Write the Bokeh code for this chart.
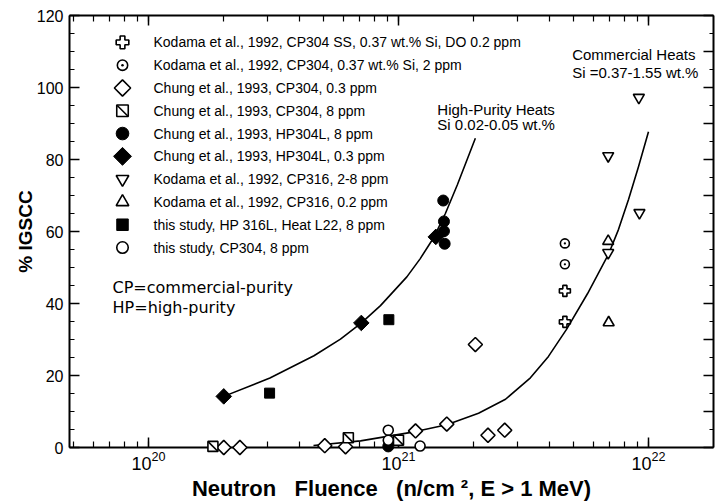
import math

from bokeh.plotting import figure
from bokeh.models import (Range1d, LogAxis, LinearAxis, LogTicker, SingleIntervalTicker,
                          LinearScale, Label, ColumnDataSource)
from bokeh.core.properties import value
from bokeh.embed import file_html
from bokeh.resources import INLINE

FONT = "Liberation Sans"

# ---- measured data: neutron fluence (n/cm^2) vs % IGSCC ----
kodama_ss_x = [4.63e21, 4.63e21]
kodama_ss_y = [43.5, 34.9]

kodama_2ppm_x = [4.63e21, 4.63e21]
kodama_2ppm_y = [56.7, 50.9]

chung_cp304_03_x = [2.0e20, 2.32e20, 5.07e20, 6.14e20, 1.17e21, 1.56e21, 2.03e21, 2.28e21, 2.66e21]
chung_cp304_03_y = [0.0, 0.0, 0.5, 0.2, 4.6, 6.5, 28.6, 3.4, 4.8]

chung_cp304_8_x = [1.81e20, 6.3e20, 1.0e21]
chung_cp304_8_y = [0.3, 2.7, 2.0]

chung_hp304_8_x = [9.1e20, 1.51e21, 1.52e21, 1.52e21, 1.53e21]
chung_hp304_8_y = [0.3, 68.6, 62.8, 60.1, 56.6]

chung_hp304_03_x = [2.0e20, 7.1e20, 1.41e21]
chung_hp304_03_y = [14.2, 34.6, 58.5]

kodama_316_28_x = [6.9e21, 9.15e21, 9.2e21, 6.9e21]
kodama_316_28_y = [81.0, 97.2, 65.2, 54.1]

kodama_316_02_x = [6.9e21, 6.93e21]
kodama_316_02_y = [57.3, 34.7]

study_hp316_x = [3.05e20, 9.15e20]
study_hp316_y = [15.1, 35.5]

study_cp304_x = [9.1e20, 9.1e20, 1.22e21]
study_cp304_y = [4.8, 2.0, 0.4]

# ---- trend curves drawn through the two groups of heats ----
hp_curve_x = [2.0e20, 3.06e20, 4.59e20, 5.86e20, 7.11e20, 8.47e20, 1.08e21, 1.22e21,
              1.38e21, 1.54e21, 1.72e21, 2.03e21]
hp_curve_y = [14.2, 19.3, 25.5, 30.1, 34.6, 39.4, 47.4, 52.4, 58.2, 65.0, 73.0, 85.9]

cp_curve_x = [4.57e20, 7.05e20, 1.17e21, 1.56e21, 2.09e21, 2.68e21, 3.37e21, 3.98e21,
              4.70e21, 5.70e21, 6.92e21, 7.59e21, 8.32e21, 9.12e21, 1.0e22]
cp_curve_y = [0.55, 1.85, 4.42, 6.33, 9.51, 13.4, 19.35, 25.3, 32.8, 42.7, 53.7, 60.6,
              68.9, 78.0, 87.7]

series_labels = [
    "Kodama et al., 1992, CP304 SS, 0.37 wt.% Si, DO 0.2 ppm",
    "Kodama et al., 1992, CP304, 0.37 wt.% Si, 2 ppm",
    "Chung et al., 1993, CP304, 0.3 ppm",
    "Chung et al., 1993, CP304, 8 ppm",
    "Chung et al., 1993, HP304L, 8 ppm",
    "Chung et al., 1993, HP304L, 0.3 ppm",
    "Kodama et al., 1992, CP316, 2-8 ppm",
    "Kodama et al., 1992, CP316, 0.2 ppm",
    "this study, HP 316L, Heat L22, 8 ppm",
    "this study, CP304, 8 ppm",
]

FRAME_W, FRAME_H = 644, 434
p = figure(width=718, height=503, x_axis_type="log",
           x_range=Range1d(4.83e19, 1.82e22), y_range=Range1d(0, 120),
           output_backend="svg", toolbar_location=None,
           min_border_left=69, min_border_right=5, min_border_top=15, min_border_bottom=54)
p.outline_line_color = None
p.grid.visible = False
p.background_fill_color = "white"
p.border_fill_color = "white"

# pixel-like coordinate system (origin top-left of the frame) for the key block
p.extra_x_ranges = {"key": Range1d(0, FRAME_W)}
p.extra_y_ranges = {"key": Range1d(FRAME_H, 0)}
p.extra_x_scales = {"key": LinearScale()}
p.extra_y_scales = {"key": LinearScale()}


def style_axis(ax, tick_size="16px"):
    ax.axis_line_color = "black"
    ax.axis_line_width = 2
    ax.major_tick_line_color = "black"
    ax.major_tick_line_width = 1.5
    ax.minor_tick_line_color = "black"
    ax.minor_tick_line_width = 1.2
    ax.major_tick_in = 10
    ax.major_tick_out = 0
    ax.minor_tick_in = 5
    ax.minor_tick_out = 0
    ax.major_label_text_font = FONT
    ax.major_label_text_font_size = tick_size
    ax.major_label_text_color = "black"


# bottom axis
xa = p.xaxis[0]
xa.ticker = LogTicker(num_minor_ticks=10)
style_axis(xa, "18px")
xa.minor_tick_in = 6
xa.major_label_standoff = 3
xa.axis_label = "Neutron\u00a0\u00a0\u00a0Fluence\u00a0\u00a0\u00a0(n/cm ², E > 1 MeV)"
xa.axis_label_text_font = FONT
xa.axis_label_text_font_style = "bold"
xa.axis_label_text_font_size = "22px"
xa.axis_label_text_color = "black"
xa.axis_label_standoff = 3

# left axis
ya = p.yaxis[0]
ya.ticker = SingleIntervalTicker(interval=20, num_minor_ticks=4)
style_axis(ya, "16px")
ya.major_label_standoff = 6
ya.axis_label = "% IGSCC"
ya.axis_label_text_font = FONT
ya.axis_label_text_font_style = "bold"
ya.axis_label_text_font_size = "19px"
ya.axis_label_text_color = "black"
ya.axis_label_standoff = -2

# top and right frame axes, ticks only (labels kept invisible)
top = LogAxis(ticker=LogTicker(num_minor_ticks=10))
style_axis(top, "2px")
top.major_label_text_alpha = 0
top.major_label_standoff = 0
top.minor_tick_in = 6
p.add_layout(top, "above")

right = LinearAxis(ticker=SingleIntervalTicker(interval=10, num_minor_ticks=2))
style_axis(right, "2px")
right.major_label_text_alpha = 0
right.major_label_standoff = 0
right.minor_tick_in = 4
p.add_layout(right, "right")

# trend curves
p.line(hp_curve_x, hp_curve_y, line_color="black", line_width=1.6, line_join="round")
p.line(cp_curve_x, cp_curve_y, line_color="black", line_width=1.6, line_join="round")

LW = 1.6
# marker style per series: (marker, size, angle, fill)
styles = [
    ("plus", 11, 0.0, "white"),
    ("circle_dot", 9, 0.0, "white"),
    ("square", 10, math.pi / 4, "white"),
    ("square", 10, 0.0, "white"),
    ("circle", 11, 0.0, "black"),
    ("square", 11, math.pi / 4, "black"),
    ("inverted_triangle", 11, 0.0, "white"),
    ("triangle", 11, 0.0, "white"),
    ("square", 10, 0.0, "black"),
    ("circle", 10, 0.0, "white"),
]
series = [
    (kodama_ss_x, kodama_ss_y),
    (kodama_2ppm_x, kodama_2ppm_y),
    (chung_cp304_03_x, chung_cp304_03_y),
    (chung_cp304_8_x, chung_cp304_8_y),
    (chung_hp304_8_x, chung_hp304_8_y),
    (chung_hp304_03_x, chung_hp304_03_y),
    (kodama_316_28_x, kodama_316_28_y),
    (kodama_316_02_x, kodama_316_02_y),
    (study_hp316_x, study_hp316_y),
    (study_cp304_x, study_cp304_y),
]
for (sx, sy), (mk, sz, ang, fill) in zip(series, styles):
    p.scatter(sx, sy, marker=mk, size=sz, angle=ang, fill_color=fill,
              line_color="black", line_width=LW if fill == "white" else 1,
              level="overlay")
# diagonal stroke inside the 8 ppm CP304 squares
p.scatter(chung_cp304_8_x, chung_cp304_8_y, marker="dash", size=13, angle=-math.pi / 4,
          line_color="black", line_width=LW, level="overlay")

# key block: symbol column and label column, one row per series
KEY_X, KEY_TEXT_X, KEY_TOP, KEY_STEP = 53, 84, 27, 22.9
rows = [KEY_TOP + i * KEY_STEP for i in range(len(series_labels))]
scale_up = 1.15
key_src = ColumnDataSource(dict(
    x=[KEY_X] * len(rows), y=rows,
    marker=[s[0] for s in styles], size=[s[1] * scale_up for s in styles],
    angle=[s[2] for s in styles], fill=[s[3] for s in styles],
    lw=[LW if s[3] == "white" else 1 for s in styles],
))
p.scatter(x="x", y="y", marker="marker", size="size", angle="angle", fill_color="fill",
          line_color="black", line_width="lw", source=key_src,
          x_range_name="key", y_range_name="key")
p.scatter([KEY_X], [rows[3]], marker="dash", size=13 * scale_up, angle=-math.pi / 4,
          line_color="black", line_width=LW, x_range_name="key", y_range_name="key")
p.text(x=[KEY_TEXT_X] * len(rows), y=rows, text=series_labels,
       text_font=value(FONT), text_font_size=value("14px"), text_baseline="middle",
       text_align="left", text_color="black", x_range_name="key", y_range_name="key")

# annotations
notes = [
    (1.43e21, 94.0, "High-Purity Heats"),
    (1.43e21, 89.6, "Si 0.02-0.05 wt.%"),
    (4.95e21, 109.2, "Commercial Heats"),
    (4.95e21, 104.1, "Si =0.37-1.55 wt.%"),
]
for nx, ny, txt in notes:
    p.add_layout(Label(x=nx, y=ny, text=txt, text_font=FONT, text_font_size="15px",
                       text_baseline="middle", text_align="left", text_color="black"))

for nx, ny, txt in [(7.18e19, 44.4, "CP=commercial-purity"), (7.18e19, 38.8, "HP=high-purity")]:
    p.add_layout(Label(x=nx, y=ny, text=txt, text_font="DejaVu Sans", text_font_size="16px",
                       text_baseline="middle", text_align="left", text_color="black"))

open("out.html", "w").write(file_html(p, INLINE))
